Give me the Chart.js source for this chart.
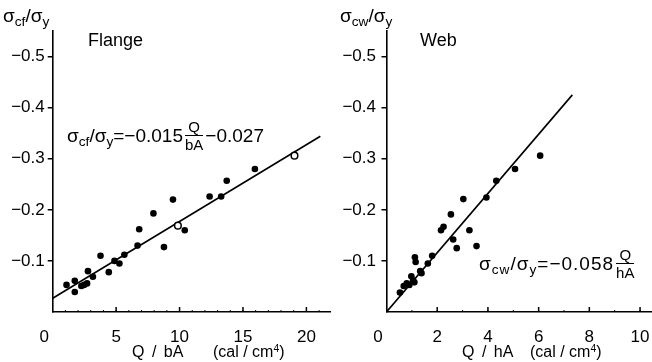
<!DOCTYPE html>
<html>
<head>
<meta charset="utf-8">
<script src="https://cdn.jsdelivr.net/npm/chart.js@4.4.0/dist/chart.umd.min.js"></script>
<style>
  html, body { margin: 0; padding: 0; background: #fff; overflow: hidden; }
  body { width: 652px; height: 362px; position: relative; font-family: 'Liberation Sans', Arial, sans-serif; color: #000; }
  canvas { position: absolute; top: 0; }
  #flange-chart { left: 0; }
  #web-chart { left: 336px; }
  .lbl { position: absolute; white-space: nowrap; line-height: 1; }
  .lbl sub, .eq sub { font-size: 0.72em; vertical-align: -0.3em; line-height: 0; }
  .lbl sup { font-size: 0.65em; vertical-align: 0.5em; line-height: 0; }
  .eq { position: absolute; display: flex; align-items: center; white-space: nowrap; font-size: 19px; line-height: 1; }
  .frac { display: inline-flex; flex-direction: column; align-items: center; font-size: 15px; margin: 0 2px; letter-spacing: 0; }
  .frac span:first-child { border-bottom: 1.3px solid #000; padding: 0 3px 1px; }
  .frac span:last-child { padding-top: 1px; }
</style>
</head>
<body>
<canvas id="flange-chart" width="336" height="362"></canvas>
<canvas id="web-chart" width="340" height="362"></canvas>

<!-- Flange labels -->
<div class="lbl" style="left:3px; top:6px; font-size:19px;">σ<sub>cf</sub>/σ<sub>y</sub></div>
<div class="lbl" style="left:88px; top:31px; font-size:18px;">Flange</div>
<div class="eq" style="left:67px; top:119px;">
  <span>σ<sub>cf</sub>/σ<sub>y</sub>=−0.015</span>
  <span class="frac"><span>Q</span><span>bA</span></span>
  <span>−0.027</span>
</div>
<div class="lbl" style="left:132px; top:344px; font-size:16px; word-spacing:3px;">Q / bA</div>
<div class="lbl" style="left:213px; top:344px; font-size:16px;">(cal / cm<sup>4</sup>)</div>

<!-- Web labels -->
<div class="lbl" style="left:340px; top:6px; font-size:19px;">σ<sub>cw</sub>/σ<sub>y</sub></div>
<div class="lbl" style="left:420px; top:31px; font-size:18px;">Web</div>
<div class="eq" style="left:479px; top:247px; letter-spacing:1px;">
  <span>σ<sub>cw</sub>/σ<sub>y</sub>=−0.058</span>
  <span class="frac"><span>Q</span><span>hA</span></span>
</div>
<div class="lbl" style="left:462px; top:344px; font-size:16px; word-spacing:3px;">Q / hA</div>
<div class="lbl" style="left:530px; top:344px; font-size:16px;">(cal / cm<sup>4</sup>)</div>

<script>
// Flange data (Q/bA vs stress ratio)
const flangeQ = [1.09, 1.74, 1.74, 2.26, 2.47, 2.71, 2.78, 3.17, 3.77, 4.42, 4.87, 5.26, 5.65,
  6.69, 6.82, 7.94, 8.77, 9.48, 9.87, 10.41, 12.37, 13.28, 13.72, 15.94, 19.06];
const flangeStress = [-0.053, -0.061, -0.039, -0.051, -0.053, -0.056, -0.080, -0.069, -0.110,
  -0.078, -0.100, -0.095, -0.112, -0.130, -0.162, -0.193, -0.127, -0.220, -0.169, -0.160,
  -0.226, -0.226, -0.257, -0.280, -0.306];
const flangeHollow = [18, 24];
const flangeFitQ = [0, 21.1];
const flangeFitStress = [-0.027, -0.344];
const flangeTicksX = [0, 5, 10, 15, 20];

// Web data (Q/hA vs stress ratio)
const webQ = [0.53, 0.68, 0.80, 0.90, 0.98, 1.05, 1.10, 1.12, 1.15, 1.33, 1.38, 1.63, 1.80,
  2.15, 2.25, 2.54, 2.63, 2.77, 3.03, 3.27, 3.55, 3.94, 4.33, 5.07, 6.06];
const webStress = [-0.038, -0.051, -0.056, -0.053, -0.070, -0.062, -0.058, -0.107, -0.098,
  -0.080, -0.076, -0.095, -0.110, -0.160, -0.167, -0.191, -0.142, -0.125, -0.221, -0.160,
  -0.129, -0.224, -0.257, -0.280, -0.306];
const webFitQ = [0, 7.33];
const webFitStress = [0, -0.425];
const webTicksX = [0, 2, 4, 6, 8, 10];

// shared y ticks
const stressTicks = [-0.5, -0.4, -0.3, -0.2, -0.1];

Chart.defaults.font.family = "'Liberation Sans', Arial, sans-serif";
Chart.defaults.font.size = 17;
Chart.defaults.color = '#000';

// x ticks point up into the plot, drawn from the x scale
const inwardTicks = {
  id: 'inwardTicks',
  afterDraw(chart, args, opts) {
    const { ctx, scales: { x, y } } = chart;
    const base = y.getPixelForValue(0);
    ctx.save();
    ctx.strokeStyle = '#000';
    ctx.lineWidth = 1.5;
    opts.major.forEach(v => {
      if (v === 0) return;
      const px = x.getPixelForValue(v);
      ctx.beginPath();
      ctx.moveTo(px, base);
      ctx.lineTo(px, base - 5);
      ctx.stroke();
    });
    ctx.lineWidth = 1;
    for (let v = opts.minor; v < x.max; v += opts.minor) {
      const px = x.getPixelForValue(v);
      ctx.beginPath();
      ctx.moveTo(px, base);
      ctx.lineTo(px, base - 2);
      ctx.stroke();
    }
    ctx.restore();
  }
};

function toPoints(xs, ys) {
  return xs.map((v, i) => ({ x: v, y: ys[i] }));
}

function makeChart(canvas, cfg) {
  return new Chart(canvas, {
    type: 'scatter',
    data: {
      datasets: [{
        data: toPoints(cfg.q, cfg.stress),
        pointRadius: 3.3,
        pointBackgroundColor: c => cfg.hollow.includes(c.dataIndex) ? '#fff' : '#000',
        pointBorderColor: '#000',
        pointBorderWidth: c => cfg.hollow.includes(c.dataIndex) ? 1.5 : 0
      }, {
        data: toPoints(cfg.fitQ, cfg.fitStress),
        showLine: true,
        borderColor: '#000',
        borderWidth: 1.6,
        pointRadius: 0
      }]
    },
    options: {
      responsive: false,
      animation: false,
      layout: { padding: { top: 31, right: cfg.padRight, left: 0, bottom: 0 } },
      scales: {
        x: {
          type: 'linear',
          min: 0,
          max: cfg.xMax,
          grid: { display: false },
          border: { color: '#000', width: 1.6 },
          afterBuildTicks: s => { s.ticks = cfg.ticksX.map(v => ({ value: v })); },
          afterFit: s => { s.height = 50; },
          ticks: {
            padding: 7,
            autoSkip: false,
            maxRotation: 0,
            callback: v => v === 0 ? '0\u2002\u2002' : String(v)
          }
        },
        y: {
          type: 'linear',
          min: -0.55,
          max: 0,
          reverse: true,
          grid: { drawOnChartArea: false, drawTicks: true, tickLength: 5, color: '#000', lineWidth: 1.5 },
          border: { color: '#000', width: 1.6 },
          afterBuildTicks: s => { s.ticks = stressTicks.map(v => ({ value: v })); },
          afterFit: s => { s.width = cfg.yWidth; },
          ticks: {
            padding: cfg.yPad,
            callback: v => '\u2212' + Math.abs(v).toFixed(1)
          }
        }
      },
      plugins: {
        legend: { display: false },
        tooltip: { enabled: false },
        inwardTicks: { major: cfg.ticksX, minor: cfg.minor }
      }
    },
    plugins: [inwardTicks]
  });
}

// Flange chart
const flangeChart = makeChart(document.getElementById('flange-chart'), {
  q: flangeQ, stress: flangeStress, hollow: flangeHollow,
  fitQ: flangeFitQ, fitStress: flangeFitStress, ticksX: flangeTicksX,
  xMax: 21.9, padRight: 3, yWidth: 52.7, yPad: 3, minor: 1
});

// Web chart
const webChart = makeChart(document.getElementById('web-chart'), {
  q: webQ, stress: webStress, hollow: [],
  fitQ: webFitQ, fitStress: webFitStress, ticksX: webTicksX,
  xMax: 11.26, padRight: 0, yWidth: 50.5, yPad: 5.5, minor: 1
});
</script>
</body>
</html>
